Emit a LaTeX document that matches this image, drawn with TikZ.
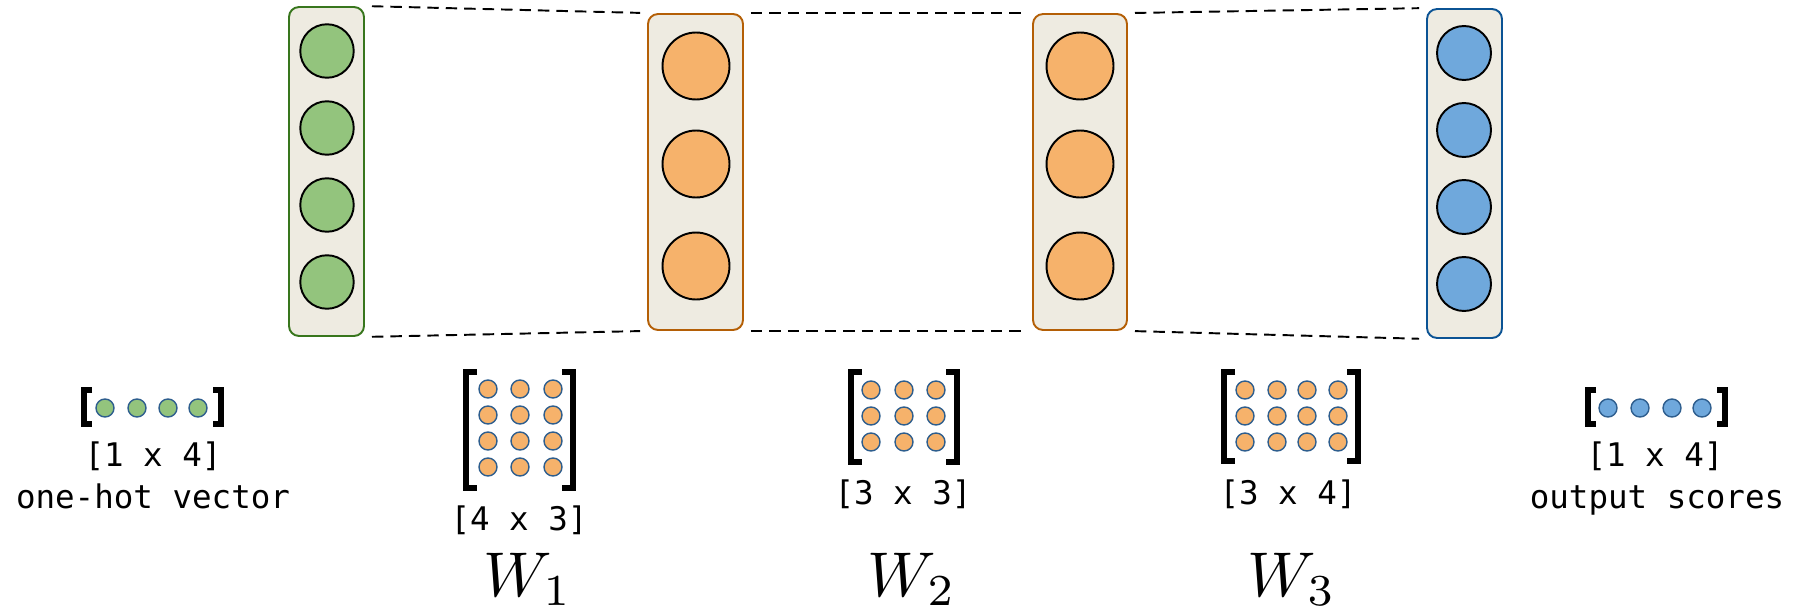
\documentclass[tikz,border=0pt]{standalone}
\usepackage{amsmath,amssymb}
\usepackage{fontspec}
\newfontfamily\codefont{DejaVu Sans Mono}
\definecolor{boxfill}{HTML}{EEEBE1}
\definecolor{ingreen}{HTML}{93C47D}
\definecolor{ingreenedge}{HTML}{38761D}
\definecolor{hidorange}{HTML}{F6B26B}
\definecolor{hidorangeedge}{HTML}{B45F06}
\definecolor{outblue}{HTML}{6FA8DC}
\definecolor{outblueedge}{HTML}{0B5394}
\definecolor{dotedge}{HTML}{2E5E8E}

\begin{document}
\begin{tikzpicture}[x=0.02cm,y=-0.02cm,
  layer/.style={draw,rounded corners=0.2cm,fill=boxfill,line width=1.1pt,inner sep=0pt,minimum height=6.58cm},
  unit/.style={circle,draw=black,line width=1.1pt,inner sep=0pt},
  dot/.style={draw=dotedge,line width=0.8pt},
  brak/.style={line width=3pt,line join=miter},
  link/.style={line width=1.1pt,dash pattern=on 6.5pt off 4pt,shorten <=4pt,shorten >=4pt},
  dims/.style={font=\codefont\fontsize{18.5}{22}\selectfont,anchor=base,inner sep=0pt},
  wlab/.style={anchor=base,inner sep=0pt}]
\useasboundingbox (0,0) rectangle (1804,615);

% layer boxes
\node[layer,draw=ingreenedge,minimum width=1.5cm] (inbox) at (326.5,171.5) {};
\node[layer,draw=hidorangeedge,minimum width=1.9cm,minimum height=6.32cm] (hidbox1) at (695.5,172) {};
\node[layer,draw=hidorangeedge,minimum width=1.88cm,minimum height=6.32cm] (hidbox2) at (1080,172) {};
\node[layer,draw=outblueedge,minimum width=1.5cm] (outbox) at (1464.5,173.5) {};

% units
\foreach \y [count=\i] in {51,128,205,282}
  \node[unit,fill=ingreen,minimum size=1.07cm] (in\i) at (327,\y) {};
\foreach \y [count=\i] in {66,164,266}
  \node[unit,fill=hidorange,minimum size=1.34cm] (hida\i) at (696,\y) {};
\foreach \y [count=\i] in {66,164,266}
  \node[unit,fill=hidorange,minimum size=1.34cm] (hidb\i) at (1080,\y) {};
\foreach \y [count=\i] in {53,130,207,284}
  \node[unit,fill=outblue,minimum size=1.08cm] (out\i) at (1464,\y) {};

% dashed links
\draw[link] (inbox.north east) -- (hidbox1.north west);
\draw[link] (hidbox1.north east) -- (hidbox2.north west);
\draw[link] (hidbox2.north east) -- (outbox.north west);
\draw[link] (inbox.south east) -- (hidbox1.south west);
\draw[link] (hidbox1.south east) -- (hidbox2.south west);
\draw[link] (hidbox2.south east) -- (outbox.south west);

% one-hot vector
\draw[brak] (92,390) -- (84,390) -- (84,424) -- (92,424);
\draw[brak] (213,390) -- (221,390) -- (221,424) -- (213,424);
\foreach \x in {105,137,168,198}
  \draw[dot,fill=ingreen] (\x,408) circle (0.18cm);
\node[dims] (invdim) at (153,466) {[1 x 4]};
\node[dims] (invname) at (153,508) {one-hot vector};

% W1
\draw[brak] (477,372) -- (466,372) -- (466,488) -- (477,488);
\draw[brak] (562,372) -- (573,372) -- (573,488) -- (562,488);
\foreach \x in {488,520,553}
  \foreach \y in {389,415,441,467}
    \draw[dot,fill=hidorange] (\x,\y) circle (0.18cm);
\node[dims] (w1dim) at (519,530) {[4 x 3]};
\node[wlab] (w1) at (528,596) {\scalebox{3.6}{$W_1$}};

% W2
\draw[brak] (862,372) -- (851,372) -- (851,462) -- (862,462);
\draw[brak] (946,372) -- (957,372) -- (957,462) -- (946,462);
\foreach \x in {871,904,936}
  \foreach \y in {390,416,442}
    \draw[dot,fill=hidorange] (\x,\y) circle (0.18cm);
\node[dims] (w2dim) at (903,504) {[3 x 3]};
\node[wlab] (w2) at (912,596) {\scalebox{3.6}{$W_2$}};

% W3
\draw[brak] (1235,372) -- (1224,372) -- (1224,461) -- (1235,461);
\draw[brak] (1347,372) -- (1358,372) -- (1358,461) -- (1347,461);
\foreach \x in {1245,1277,1307,1338}
  \foreach \y in {390,416,442}
    \draw[dot,fill=hidorange] (\x,\y) circle (0.18cm);
\node[dims] (w3dim) at (1288,504) {[3 x 4]};
\node[wlab] (w3) at (1292,596) {\scalebox{3.6}{$W_3$}};

% output scores
\draw[brak] (1596,390) -- (1588,390) -- (1588,424) -- (1596,424);
\draw[brak] (1717,390) -- (1725,390) -- (1725,424) -- (1717,424);
\foreach \x in {1608,1640,1672,1702}
  \draw[dot,fill=outblue] (\x,408) circle (0.18cm);
\node[dims] (outvdim) at (1655,466) {[1 x 4]};
\node[dims] (outvname) at (1657,508) {output scores};
\end{tikzpicture}
\end{document}
